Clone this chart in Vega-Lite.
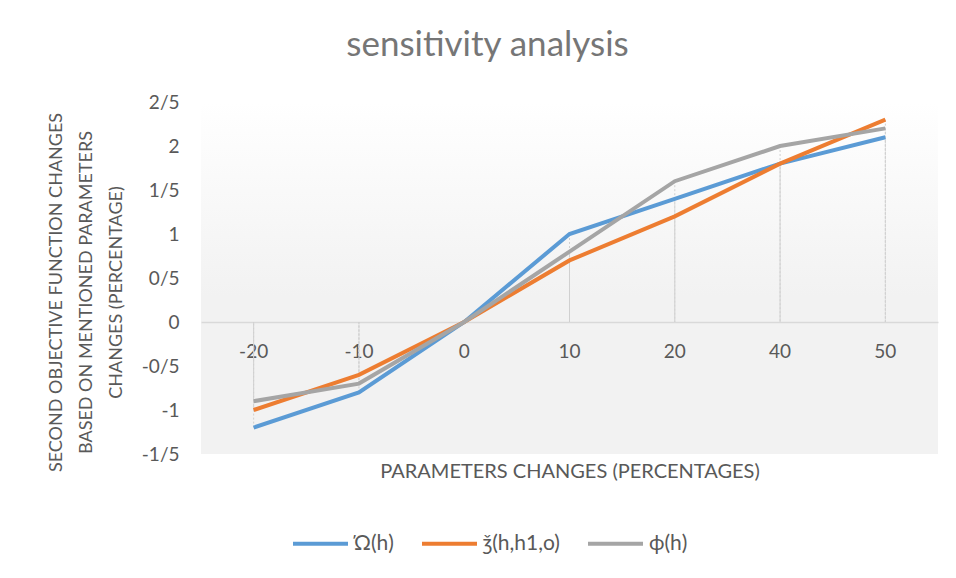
{
  "$schema": "https://vega.github.io/schema/vega-lite/v6.json",
  "width": 737,
  "height": 352,
  "autosize": {"type": "none"},
  "padding": {"left": 201, "top": 102, "right": 18, "bottom": 124},
  "background": "#ffffff",
  "config": {
    "font": "Lato",
    "view": {
      "stroke": null,
      "fill": {"gradient": "linear", "x1": 0, "y1": 0, "x2": 0, "y2": 1,
        "stops": [{"offset": 0, "color": "#ffffff"}, {"offset": 0.55, "color": "#f2f2f2"}, {"offset": 1, "color": "#f2f2f2"}]}
    }
  },
  "title": {
    "text": "sensitivity analysis",
    "fontSize": 35,
    "fontWeight": "normal",
    "color": "#767676",
    "dx": -82,
    "offset": 30
  },
  "data": {
    "values": [
      {"x": "-20", "series": "Ώ(h)", "value": -1.2},
      {"x": "-10", "series": "Ώ(h)", "value": -0.8},
      {"x": "0", "series": "Ώ(h)", "value": 0},
      {"x": "10", "series": "Ώ(h)", "value": 1.0},
      {"x": "20", "series": "Ώ(h)", "value": 1.4},
      {"x": "40", "series": "Ώ(h)", "value": 1.8},
      {"x": "50", "series": "Ώ(h)", "value": 2.1},
      {"x": "-20", "series": "ǯ(h,h1,o)", "value": -1.0},
      {"x": "-10", "series": "ǯ(h,h1,o)", "value": -0.6},
      {"x": "0", "series": "ǯ(h,h1,o)", "value": 0},
      {"x": "10", "series": "ǯ(h,h1,o)", "value": 0.7},
      {"x": "20", "series": "ǯ(h,h1,o)", "value": 1.2},
      {"x": "40", "series": "ǯ(h,h1,o)", "value": 1.8},
      {"x": "50", "series": "ǯ(h,h1,o)", "value": 2.3},
      {"x": "-20", "series": "ϕ(h)", "value": -0.9},
      {"x": "-10", "series": "ϕ(h)", "value": -0.7},
      {"x": "0", "series": "ϕ(h)", "value": 0},
      {"x": "10", "series": "ϕ(h)", "value": 0.8},
      {"x": "20", "series": "ϕ(h)", "value": 1.6},
      {"x": "40", "series": "ϕ(h)", "value": 2.0},
      {"x": "50", "series": "ϕ(h)", "value": 2.2}
    ]
  },
  "encoding": {
    "x": {
      "field": "x",
      "type": "nominal",
      "sort": ["-20", "-10", "0", "10", "20", "40", "50"],
      "scale": {"paddingInner": 0, "paddingOuter": 0},
      "axis": {
        "title": "PARAMETERS CHANGES (PERCENTAGES)",
        "titleFontSize": 20,
        "titleFontWeight": "normal",
        "titleColor": "#595959",
        "titleY": 139,
        "labelAngle": 0,
        "labelFontSize": 19,
        "labelColor": "#595959",
        "labelPadding": 20,
        "ticks": false,
        "tickSize": 0,
        "domain": true,
        "domainColor": "#d9d9d9",
        "domainWidth": 1.5,
        "offset": -132,
        "grid": false
      }
    },
    "y": {
      "field": "value",
      "type": "quantitative",
      "scale": {"domain": [-1.5, 2.5], "nice": false, "zero": false},
      "axis": {
        "title": ["SECOND OBJECTIVE FUNCTION CHANGES", "BASED ON MENTIONED PARAMETERS", "CHANGES (PERCENTAGE)"],
        "titleFontSize": 18,
        "titleFontWeight": "normal",
        "titleColor": "#595959",
        "titleLineHeight": 30,
        "titlePadding": 16,
        "titleY": 190,
        "values": [-1.5, -1, -0.5, 0, 0.5, 1, 1.5, 2, 2.5],
        "labelExpr": "replace(replace(format(datum.value, '.1~f'), '.', '/'), '−', '-')",
        "labelFontSize": 19,
        "labelColor": "#595959",
        "labelPadding": 22,
        "ticks": false,
        "tickSize": 0,
        "domain": false,
        "grid": false
      }
    }
  },
  "layer": [
    {
      "mark": {"type": "rule", "color": "#d0d0d0", "strokeDash": [2, 2], "strokeWidth": 1},
      "encoding": {"y2": {"datum": 0}}
    },
    {
      "mark": {"type": "line", "strokeWidth": 4},
      "encoding": {
        "color": {
          "field": "series",
          "type": "nominal",
          "scale": {"domain": ["Ώ(h)", "ǯ(h,h1,o)", "ϕ(h)"], "range": ["#5b9bd5", "#ed7d31", "#a5a5a5"]},
          "legend": {
            "title": null,
            "orient": "none",
            "direction": "horizontal",
            "legendX": 90,
            "legendY": 412,
            "symbolType": "stroke",
            "symbolSize": 3025,
            "symbolStrokeWidth": 4,
            "labelFontSize": 21,
            "labelColor": "#595959",
            "labelOffset": 4,
            "columnPadding": 20
          }
        }
      }
    }
  ]
}
